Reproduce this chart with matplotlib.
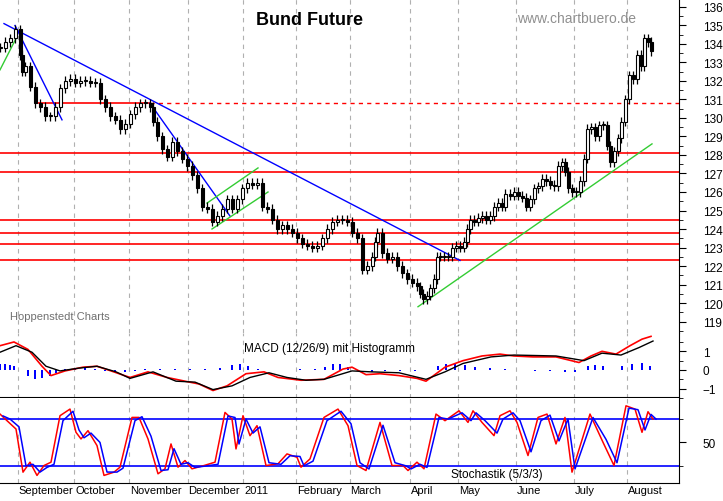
import matplotlib

matplotlib.use("Agg")
import matplotlib.pyplot as plt
import numpy as np

plt.rcParams["font.family"] = ["Liberation Sans", "DejaVu Sans"]

# price closes, positions in chart units (trading-day axis, 679 units wide)
price_t = [0, 5, 10, 15, 20, 22, 25, 30, 35, 40, 45, 50, 55, 60, 65, 70, 75, 80, 85, 90, 95, 100,
           105, 110, 115, 120, 125, 130, 135, 140, 145, 150, 153, 157, 162, 167, 172, 177, 182, 187,
           192, 197, 202, 207, 212, 217, 222, 227, 232, 237, 242, 247, 252, 257, 262, 267, 272, 277,
           282, 287, 292, 297, 302, 307, 312, 317, 322, 327, 332, 337, 342, 347, 352, 357, 362, 367,
           372, 375, 377, 382, 387, 392, 397, 402, 407, 412, 417, 420, 423, 427, 430, 434, 437, 440,
           444, 448, 452, 456, 460, 464, 467, 470, 474, 478, 482, 486, 490, 494, 498, 502, 505, 510,
           514, 518, 522, 526, 530, 534, 538, 542, 546, 550, 554, 558, 562, 565, 568, 572, 576, 580,
           584, 587, 591, 595, 599, 603, 607, 610, 614, 618, 621, 625, 629, 633, 637, 641, 644, 648, 651]
price_close = [133.8, 134.1, 134.3, 134.8, 133.4, 132.5, 132.8, 131.7, 130.8, 130.6, 130.1, 130.1,
               130.6, 131.6, 132.0, 132.1, 131.9, 132.0, 132.0, 131.9, 131.9, 131.0, 130.6, 130.1,
               129.9, 129.4, 129.7, 130.2, 130.6, 130.8, 130.8, 130.6, 129.8, 129.0, 128.3, 127.9,
               128.7, 128.2, 127.8, 127.4, 126.9, 126.2, 125.2, 125.1, 124.4, 124.7, 125.1, 125.6,
               125.1, 125.6, 126.2, 126.5, 126.4, 126.5, 125.2, 125.1, 124.5, 124.0, 124.2, 124.0,
               123.8, 123.5, 123.2, 123.1, 123.0, 123.1, 123.5, 124.0, 124.4, 124.5, 124.5, 124.4,
               123.8, 123.5, 121.8, 122.0, 122.5, 123.3, 123.8, 122.7, 122.4, 122.5, 122.0, 121.6,
               121.3, 121.1, 120.9, 120.5, 120.2, 120.4, 120.8, 121.3, 122.5, 122.5, 122.5, 122.5,
               123.0, 123.1, 123.0, 123.3, 124.0, 124.5, 124.4, 124.6, 124.7, 124.5, 124.7, 125.2,
               125.4, 125.2, 125.9, 125.8, 126.0, 125.8, 125.7, 125.2, 125.6, 126.2, 126.3, 126.7,
               126.6, 126.4, 126.3, 127.4, 127.6, 127.1, 126.2, 126.0, 126.0, 126.6, 127.8, 129.4,
               129.5, 129.0, 129.6, 129.6, 128.5, 127.6, 128.2, 128.9, 129.8, 131.0, 132.3, 132.1,
               133.4, 132.8, 134.3, 134.1, 133.6]

red_levels = [128.1, 127.1, 124.5, 123.8, 123.2, 122.3]
resistance_level = 130.8
blue_trends = [((4, 135.1), (460, 122.3)), ((15, 135.0), (62, 129.9)), ((150, 130.8), (230, 124.7))]
green_trends = [((0, 132.6), (17, 134.4)), ((207, 125.4), (258, 127.3)),
                ((212, 124.0), (268, 126.0)), ((418, 119.8), (652, 128.6))]

macd_t = [0, 14, 28, 42, 51, 65, 83, 97, 111, 130, 148, 167, 185, 199, 213, 227, 246, 264, 278, 301,
          324, 343, 352, 366, 380, 399, 417, 426, 445, 463, 482, 500, 514, 533, 556, 579, 591, 602,
          616, 630, 642, 651]
macd_line = [1.3, 1.5, 1.1, 0.2, -0.3, -0.05, 0.15, 0.2, -0.05, -0.4, -0.1, -0.4, -0.6, -0.75, -1.1,
             -0.85, -0.2, -0.1, -0.4, -0.55, -0.5, 0.05, 0.15, -0.25, -0.2, -0.3, -0.45, -0.6, 0.15,
             0.5, 0.75, 0.85, 0.75, 0.7, 0.7, 0.4, 0.75, 1.0, 0.85, 1.3, 1.65, 1.8]
signal_t = [0, 16, 32, 46, 60, 79, 97, 116, 130, 153, 176, 195, 213, 232, 250, 269, 287, 306, 324,
            352, 371, 399, 426, 445, 463, 491, 514, 556, 584, 602, 621, 639, 653]
signal_line = [0.95, 1.3, 0.95, 0.2, -0.05, 0.1, 0.2, -0.1, -0.45, -0.1, -0.6, -0.65, -1.05, -0.85,
               -0.4, -0.15, -0.4, -0.55, -0.5, -0.05, -0.1, -0.15, -0.5, -0.1, 0.35, 0.7, 0.8, 0.75,
               0.5, 0.9, 0.8, 1.2, 1.55]
hist_t = [0, 5, 10, 14, 20, 28, 35, 42, 50, 56, 65, 75, 85, 95, 105, 115, 125, 135, 145, 160, 175,
          190, 205, 220, 232, 240, 248, 258, 270, 285, 300, 315, 325, 333, 340, 348, 358, 372, 385,
          400, 415, 428, 438, 446, 455, 465, 475, 490, 505, 520, 535, 550, 565, 575, 588, 595, 603,
          612, 622, 632, 642, 650]
hist_val = [0.3, 0.3, 0.25, 0.2, 0.0, -0.3, -0.5, -0.45, -0.3, -0.15, 0.05, 0.08, 0.1, 0.05, -0.05,
            -0.1, -0.1, -0.05, 0.05, 0.05, 0.03, 0.05, 0.03, 0.1, 0.25, 0.3, 0.2, 0.03, 0.02, 0.02,
            0.03, 0.05, 0.15, 0.3, 0.3, 0.15, -0.05, -0.1, -0.05, -0.05, -0.05, -0.02, 0.2, 0.3, 0.3,
            0.25, 0.15, 0.1, 0.05, 0.02, -0.05, -0.05, -0.1, -0.1, 0.2, 0.25, 0.2, 0.0, 0.2, 0.3,
            0.35, 0.2]

stoch_t = [0, 7, 16, 23, 30, 37, 44, 51, 60, 70, 76, 81, 88, 97, 104, 114, 120, 132, 139, 148, 158,
           165, 171, 178, 185, 192, 204, 215, 225, 232, 236, 243, 250, 257, 266, 278, 287, 297, 301,
           310, 324, 338, 348, 357, 366, 380, 392, 403, 408, 417, 424, 436, 445, 459, 468, 473, 482,
           494, 500, 510, 517, 528, 538, 547, 556, 565, 572, 590, 603, 614, 626, 635, 642, 648, 653]
stoch_k = [86.4, 77.9, 67.2, 11.9, 24.7, 7.7, 20.4, 24.7, 84.3, 92.8, 63, 54.5, 65.1, 46, 7.7, 11.9,
           18.3, 82.1, 82.1, 54.5, 9.8, 16.2, 48.1, 18.3, 26.8, 16.2, 20.4, 24.7, 88.5, 80, 41.7, 84.3,
           58.7, 71.5, 20.4, 22.6, 35.3, 31, 18.3, 28.9, 82.1, 92.8, 71.5, 20.4, 14, 75.7, 20.4, 20.4,
           14, 24.7, 16.2, 86.4, 77.9, 90.6, 75.7, 90.6, 75.7, 58.7, 84.3, 90.6, 75.7, 33.2, 82.1,
           86.4, 48.1, 82.1, 11.9, 86.4, 50.2, 20.4, 97, 92.8, 63, 89.4, 80]
stoch_d = [84, 80, 70, 20, 22, 12, 18, 22, 78, 90, 66, 56, 62, 50, 12, 12, 17, 78, 83, 58, 14, 15, 42,
           22, 24, 18, 20, 22, 84, 82, 48, 80, 62, 70, 24, 22, 33, 32, 20, 26, 78, 90, 74, 24, 16, 72,
           24, 20, 16, 22, 18, 82, 80, 88, 78, 88, 78, 62, 80, 88, 78, 38, 78, 85, 52, 80, 16, 82, 54,
           24, 94, 92, 66, 86, 80]

month_t = [17.5, 74, 129, 187.5, 243, 296, 349.5, 410, 458, 516, 574, 627]
month_names = ["September", "October", "November", "December", "2011", "February", "March",
               "April", "May", "June", "July", "August"]

W, H = 723, 502
X_END = 679
fig = plt.figure(figsize=(W / 100, H / 100), dpi=100)


def add_panel(top, bottom):
    ax = fig.add_axes([0, 1 - bottom / H, X_END / W, (bottom - top) / H])
    ax.set_xlim(0, X_END)
    ax.yaxis.tick_right()
    for side in ("top", "left"):
        ax.spines[side].set_visible(False)
    ax.tick_params(axis="y", direction="out", length=5, labelsize=8.5, pad=12)
    ax.tick_params(axis="y", which="minor", direction="out", length=3)
    ax.set_xticks([])
    for m in month_t:
        ax.axvline(m, color="#b0b0b0", ls=(0, (4, 4)), lw=0.8, zorder=0)
    return ax


# main price panel
ax = add_panel(0, 334)
ax.spines["bottom"].set_visible(False)
ax.set_ylim(118.38, 136.43)
ax.set_yticks(range(119, 137))
ax.set_yticks(np.arange(118.5, 136.5, 1), minor=True)

for lvl in red_levels:
    ax.axhline(lvl, color="red", lw=1.2, zorder=1)
ax.plot([38, 150], [resistance_level] * 2, color="red", lw=1.2, zorder=1)
ax.plot([150, X_END], [resistance_level] * 2, color="red", lw=1.0, ls=(0, (3, 3)), zorder=1)
for (x0, y0), (x1, y1) in blue_trends:
    ax.plot([x0, x1], [y0, y1], color="blue", lw=1.0, zorder=2)
for (x0, y0), (x1, y1) in green_trends:
    ax.plot([x0, x1], [y0, y1], color="#33cc33", lw=1.0, zorder=2)

opens = [price_close[0]] + price_close[:-1]
for t, o, c in zip(price_t, opens, price_close):
    lo, hi = min(o, c), max(o, c)
    ax.vlines(t, lo - 0.25, hi + 0.25, color="black", lw=0.9, zorder=3)
    ax.bar(t, max(hi - lo, 0.05), bottom=lo, width=3.0, color="white" if c >= o else "black",
           edgecolor="black", lw=0.8, zorder=4)

ax.text(310, 135.3, "Bund Future", fontsize=13, fontweight="bold", ha="center", va="center")
ax.text(577, 135.4, "www.chartbuero.de", fontsize=10, color="#909090", ha="center", va="center")
ax.text(10, 119.3, "Hoppenstedt Charts", fontsize=8, color="#707070", ha="left", va="center")

# MACD panel
ax = add_panel(334, 399)
ax.set_ylim(-1.5, 1.98)
ax.set_yticks([-1, 0, 1])
ax.set_yticks([-1.5, -0.5, 0.5, 1.5], minor=True)
ax.spines["bottom"].set_linewidth(1.5)
ax.bar(hist_t, hist_val, width=2.2, color="blue", zorder=2)
ax.plot(macd_t, macd_line, color="red", lw=1.2, zorder=3)
ax.plot(signal_t, signal_line, color="black", lw=1.0, zorder=4)
ax.text(330, 1.2, "MACD (12/26/9) mit Histogramm", fontsize=8.5, ha="center", va="center")

# stochastic panel
ax = add_panel(399, 484)
ax.set_ylim(-2, 107)
ax.set_yticks([50])
ax.set_yticks([20, 80], minor=True)
ax.axhline(80, color="blue", lw=1.2, zorder=1)
ax.axhline(20, color="blue", lw=1.2, zorder=1)
ax.plot(stoch_t, stoch_k, color="red", lw=1.1, zorder=3)
ax.plot(np.array(stoch_t) + 3, stoch_d, color="blue", lw=1.1, zorder=4)
ax.text(497, 10, "Stochastik (5/3/3)", fontsize=8.5, ha="center", va="center")
for m, name in zip(month_t, month_names):
    ax.text(m + 1, -4, name, fontsize=8, ha="left", va="top")

fig.savefig("out.png", dpi=100)
